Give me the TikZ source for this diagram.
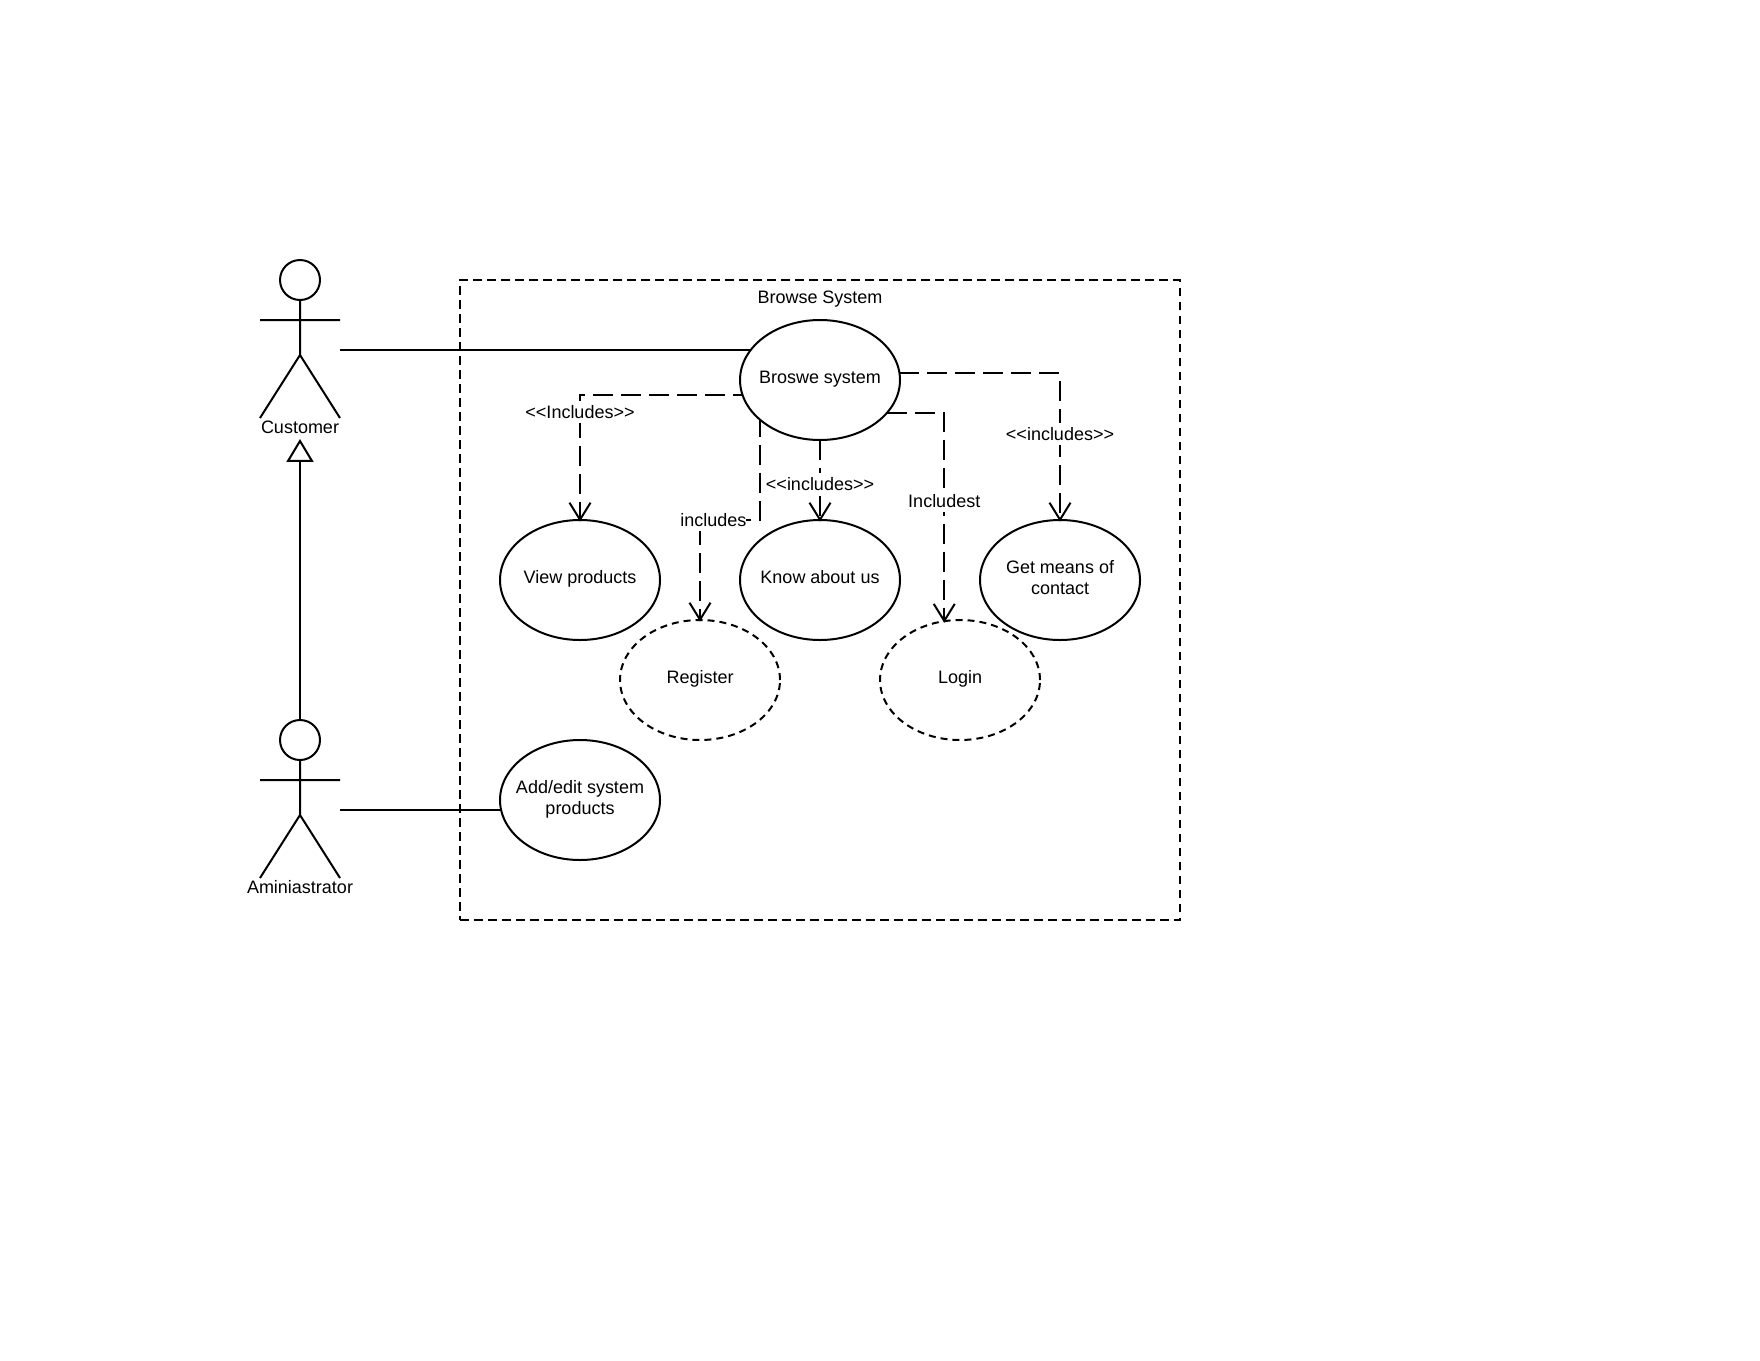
\documentclass[tikz,border=0pt]{standalone}
\usepackage{fontspec}
\setmainfont{Liberation Sans}
\usetikzlibrary{positioning,shapes.geometric,arrows.meta}

\begin{document}
\begin{tikzpicture}[every node/.style={font=\fontsize{12.8pt}{15.1pt}\selectfont},usecase/.style={draw=black,ellipse,line width=.5mm,minimum width=40mm,minimum height=30mm,inner xsep=-2mm,inner ysep=0pt,outer sep=0pt,align=center,execute at end node={\rule[-1.45mm]{0pt}{0pt}}},maybe/.style={usecase,dash pattern=on 1.75mm off 1.25mm},head/.style={draw=black,circle,line width=.5mm,minimum size=10mm,inner sep=0pt},limb/.style={draw=black,line width=.5mm},incl/.style={draw=black,line width=.5mm,dash pattern=on 5mm off 2mm,shorten >=-.4mm,-{Straight Barb[length=4.25mm,width=5.25mm]}},tag/.style={fill=white,inner sep=0pt,minimum height=5.5mm}]

\useasboundingbox (0,0) rectangle (440mm,-340mm);

\node[draw=black,line width=.5mm,dash pattern=on 2.2mm off 1.3mm,minimum width=180mm,minimum height=160mm,inner sep=0pt] (boundary) at (205mm,-150.1mm) {};

\node[usecase] (browse)   at (205mm,-95mm)                                  {Broswe system};
\node          (title)    [on grid,above=20.2mm of browse]                  {Browse System};
\node[usecase] (know)     [on grid,below=50mm of browse]                    {Know about us};
\node[usecase] (view)     [on grid,left=60mm of know]                       {View products};
\node[usecase] (contact)  [on grid,right=60mm of know]                      {Get means of\\contact};
\node[maybe]   (register) [on grid,below right=25mm and 30mm of view]       {Register};
\node[maybe]   (login)    [on grid,below left=25mm and 25mm of contact]     {Login};
\node[usecase] (addedit)  [on grid,below=55mm of view]                      {Add/edit system\\products};

\node[head]  (cushead)   at (75mm,-70mm)                                    {};
\coordinate[on grid,below=18.75mm of cushead]            (cusfork);
\coordinate[on grid,below left=10mm and 10mm of cushead]  (cusarml);
\coordinate[on grid,below right=10mm and 10mm of cushead] (cusarmr);
\coordinate[on grid,below left=34.5mm and 10mm of cushead]  (cuslegl);
\coordinate[on grid,below right=34.5mm and 10mm of cushead] (cuslegr);
\coordinate[on grid,below right=17.6mm and 10mm of cushead] (cushand);
\coordinate[on grid,below=39.75mm of cushead]            (cusgen);
\node        (cusname)   [on grid,below=36.75mm of cushead]                 {Customer};

\node[head]  (admhead)   [on grid,below=115mm of cushead]                   {};
\coordinate[on grid,below=18.75mm of admhead]            (admfork);
\coordinate[on grid,below left=10mm and 10mm of admhead]  (admarml);
\coordinate[on grid,below right=10mm and 10mm of admhead] (admarmr);
\coordinate[on grid,below left=34.5mm and 10mm of admhead]  (admlegl);
\coordinate[on grid,below right=34.5mm and 10mm of admhead] (admlegr);
\coordinate[on grid,below right=17.6mm and 10mm of admhead] (admhand);
\node        (admname)   [on grid,below=36.75mm of admhead]                 {Aminiastrator};

\draw[limb] (cushead) -- (cusfork) -- (cuslegl) (cusfork) -- (cuslegr) (cusarml) -- (cusarmr);
\draw[limb] (admhead) -- (admfork) -- (admlegl) (admfork) -- (admlegr) (admarml) -- (admarmr);

\draw[limb] (cushand) -- (browse.156.6 |- cushand);
\draw[limb] (admhand) -- (addedit.187.2 |- admhand);
\draw[limb,-{Triangle[open,fill=white,length=5.7mm,width=6.7mm]}] (admhead) -- (cusgen);

\coordinate[on grid,above=40mm of register] (regknee);

\draw[incl,dash phase=2.5mm] (browse.191) -| node[tag,pos=.568] (tagview) {<{}<Includes>{}>} (view.north);
\draw[incl,dash phase=.6mm] (browse.213.5) |- node[tag,pos=.8875] (tagreg) {includes} (regknee) -- (register.north);
\draw[incl] (browse.south) -- node[tag,pos=.55] (tagknow) {<{}<includes>{}>} (know.north);
\draw[incl] (browse.-26.3) -| node[tag,pos=.7125] (taglogin) {Includest} (login.105.8);
\draw[incl] (browse.5.25) -| node[tag,pos=.7075] (tagcontact) {<{}<includes>{}>} (contact.north);

\end{tikzpicture}
\end{document}
